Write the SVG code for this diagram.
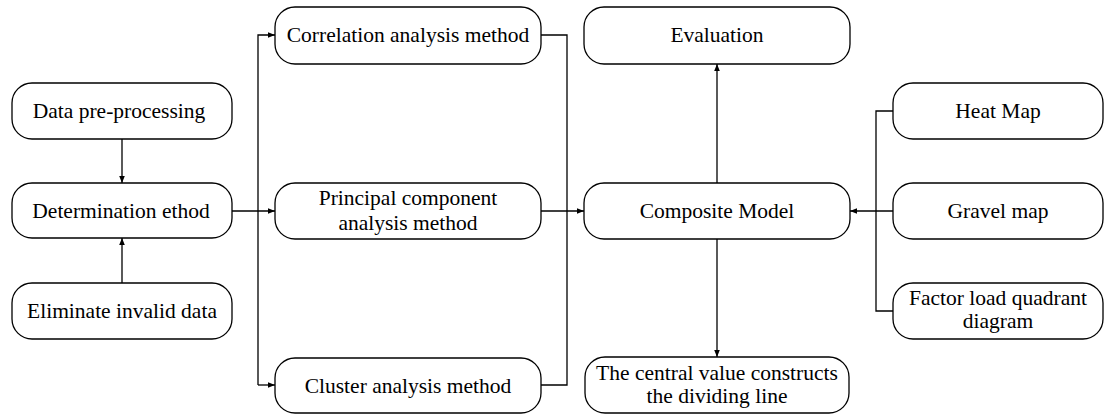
<svg xmlns="http://www.w3.org/2000/svg" width="1105" height="414" viewBox="0 0 1105 414">
<style>
.box{fill:#fff;stroke:#000;stroke-width:1.3}
.t{font-family:"Liberation Serif","Times New Roman",serif;font-size:21.5px;fill:#000;text-anchor:middle}
.c{fill:none;stroke:#000;stroke-width:1.3}
</style>
<defs>
<marker id="ah" viewBox="0 0 10 10" refX="10" refY="5" markerWidth="7" markerHeight="7" markerUnits="userSpaceOnUse" orient="auto">
<path d="M0,1 L10,5 L0,9 z" fill="#000"/>
</marker>
</defs>
<rect width="1105" height="414" fill="#fff"/>
<g id="connectors">
<path class="c" d="M122,139 V183" marker-end="url(#ah)"/>
<path class="c" d="M122,283 V238" marker-end="url(#ah)"/>
<path class="c" d="M232,211 H275" marker-end="url(#ah)"/>
<path class="c" d="M258,385 V35 H275" marker-end="url(#ah)"/>
<path class="c" d="M258,385 H275" marker-end="url(#ah)"/>
<path class="c" d="M541,35 H567 V385 H541"/>
<path class="c" d="M541,211 H584" marker-end="url(#ah)"/>
<path class="c" d="M717,183 V64" marker-end="url(#ah)"/>
<path class="c" d="M717,239 V357" marker-end="url(#ah)"/>
<path class="c" d="M893,111 H876 V311 H893"/>
<path class="c" d="M893,211 H850" marker-end="url(#ah)"/>
</g>
<g id="n-data"><rect class="box" x="12" y="83" width="220" height="56" rx="20"/><text class="t" x="119" y="118">Data pre-processing</text></g>
<g id="n-determination"><rect class="box" x="12" y="183" width="220" height="55" rx="20"/><text class="t" x="121" y="218">Determination ethod</text></g>
<g id="n-eliminate"><rect class="box" x="12" y="283" width="220" height="56" rx="20"/><text class="t" x="122" y="318">Eliminate invalid data</text></g>
<g id="n-correlation"><rect class="box" x="275" y="7" width="266" height="57" rx="20"/><text class="t" x="408" y="42">Correlation analysis method</text></g>
<g id="n-principal"><rect class="box" x="275" y="183" width="266" height="56" rx="20"/><text class="t" x="408" y="205">Principal component</text><text class="t" x="408" y="230">analysis method</text></g>
<g id="n-cluster"><rect class="box" x="275" y="358" width="266" height="55" rx="20"/><text class="t" x="408" y="393">Cluster analysis method</text></g>
<g id="n-evaluation"><rect class="box" x="584" y="7" width="266" height="57" rx="20"/><text class="t" x="717" y="42">Evaluation</text></g>
<g id="n-composite"><rect class="box" x="584" y="183" width="266" height="56" rx="20"/><text class="t" x="717" y="218">Composite Model</text></g>
<g id="n-central"><rect class="box" x="585" y="357" width="264" height="56" rx="20"/><text class="t" x="717" y="380">The central value constructs</text><text class="t" x="717" y="403">the dividing line</text></g>
<g id="n-heat"><rect class="box" x="893" y="83" width="210" height="56" rx="20"/><text class="t" x="998" y="118">Heat Map</text></g>
<g id="n-gravel"><rect class="box" x="893" y="183" width="210" height="56" rx="20"/><text class="t" x="998" y="218">Gravel map</text></g>
<g id="n-factor"><rect class="box" x="893" y="283" width="210" height="56" rx="20"/><text class="t" x="998" y="305">Factor load quadrant</text><text class="t" x="998" y="328">diagram</text></g>
</svg>
